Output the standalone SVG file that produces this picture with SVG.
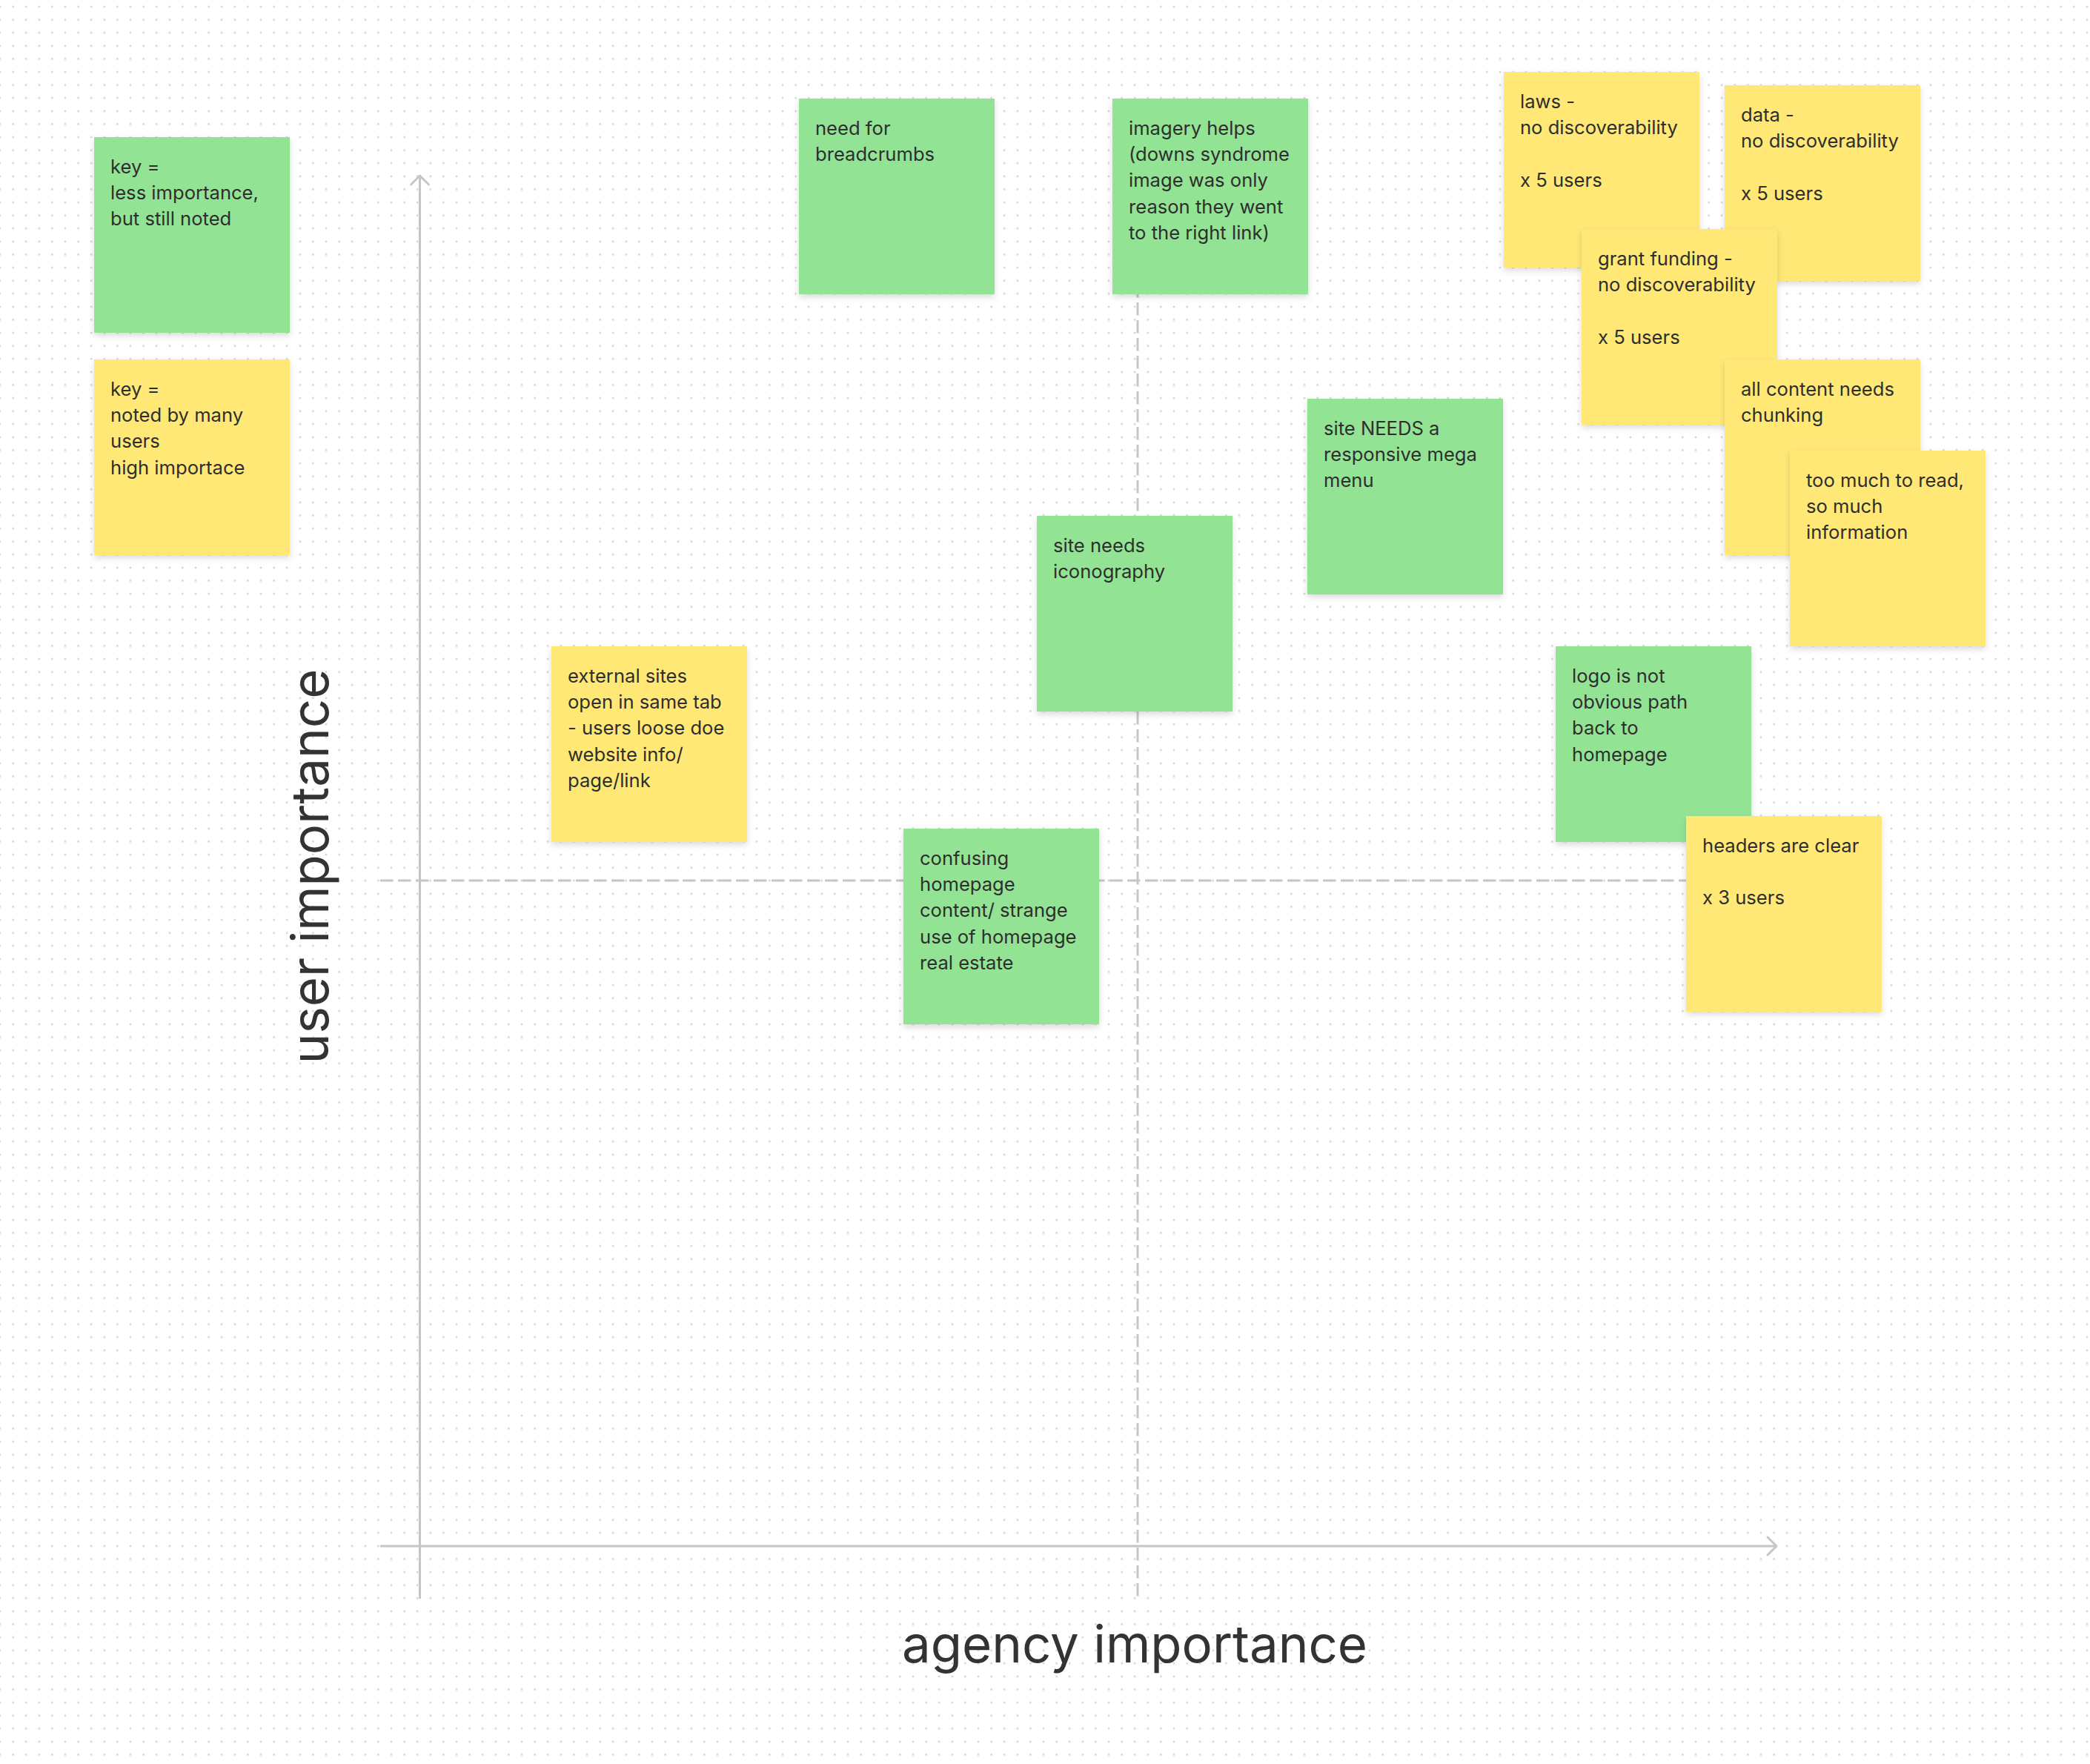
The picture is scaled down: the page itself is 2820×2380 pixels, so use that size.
<svg xmlns="http://www.w3.org/2000/svg" width="2820" height="2380" viewBox="0 0 2820 2380">
<style>
.bg{fill:#ffffff}
.dot{fill:#d2d2d2}
.g{fill:#93E395}
.y{fill:#FFE874}
.t{font-family:Inter,"Noto Sans","Liberation Sans",sans-serif;font-size:25.6px;fill:#2e2e2e}
.lbl{font-family:Inter,"Noto Sans","Liberation Sans",sans-serif;font-size:69px;fill:#333333}
.axis{stroke:#c6c6c6;stroke-width:3;fill:none}
.dash{stroke:#c6c6c6;stroke-width:3;fill:none;stroke-dasharray:17.5 6.5}
</style>
<defs>
<pattern id="dots" patternUnits="userSpaceOnUse" x="-8.8" y="0.3" width="17.6" height="17.6">
<circle class="dot" cx="8.8" cy="8.8" r="1.4"/>
</pattern>
<filter id="sh" x="-10%" y="-10%" width="120%" height="125%">
<feDropShadow dx="0" dy="4" stdDeviation="4" flood-color="#000000" flood-opacity="0.14"/>
</filter>
<marker id="arr" markerUnits="userSpaceOnUse" viewBox="-16 -16 32 32" markerWidth="32" markerHeight="32" refX="0" refY="0" orient="auto" overflow="visible">
<path d="M-12,-12 L0,0 L-12,12" stroke="#c6c6c6" stroke-width="3" fill="none" stroke-linecap="round" stroke-linejoin="round"/>
</marker>
</defs>
<rect class="bg" x="0" y="0" width="2820" height="2380"/>
<rect x="0" y="0" width="2820" height="2380" fill="url(#dots)"/>

<g id="connectors">
<line class="dash" x1="1535" y1="240" x2="1535" y2="2157"/>
<line class="dash" x1="513" y1="1188" x2="2397" y2="1188"/>
<line class="axis" x1="566.5" y1="2157" x2="566.5" y2="237" marker-end="url(#arr)"/>
<line class="axis" x1="513" y1="2086" x2="2397" y2="2086" marker-end="url(#arr)"/>
</g>

<g id="label-user-importance">
<text class="lbl" transform="translate(443,1169) rotate(-90)" text-anchor="middle">user importance</text>
</g>
<g id="label-agency-importance">
<text class="lbl" x="1531" y="2243" text-anchor="middle">agency importance</text>
</g>

<g id="key-green">
<rect class="g" x="127" y="185" width="264" height="264" filter="url(#sh)"/>
<text class="t"><tspan x="149" y="234">key =</tspan><tspan x="149" y="269.2">less importance,</tspan><tspan x="149" y="304.4">but still noted</tspan></text>
</g>
<g id="key-yellow">
<rect class="y" x="127" y="485" width="264" height="264" filter="url(#sh)"/>
<text class="t"><tspan x="149" y="534">key =</tspan><tspan x="149" y="569.2">noted by many</tspan><tspan x="149" y="604.4">users</tspan><tspan x="149" y="639.6">high importace</tspan></text>
</g>
<g id="breadcrumbs">
<rect class="g" x="1078" y="133" width="264" height="264" filter="url(#sh)"/>
<text class="t"><tspan x="1100" y="182">need for</tspan><tspan x="1100" y="217.2">breadcrumbs</tspan></text>
</g>
<g id="imagery">
<rect class="g" x="1501" y="133" width="264" height="264" filter="url(#sh)"/>
<text class="t"><tspan x="1523" y="182">imagery helps</tspan><tspan x="1523" y="217.2">(downs syndrome</tspan><tspan x="1523" y="252.4">image was only</tspan><tspan x="1523" y="287.6">reason they went</tspan><tspan x="1523" y="322.8">to the right link)</tspan></text>
</g>
<g id="laws">
<rect class="y" x="2029" y="97" width="264" height="264" filter="url(#sh)"/>
<text class="t"><tspan x="2051" y="146">laws -</tspan><tspan x="2051" y="181.2">no discoverability</tspan><tspan x="2051" y="251.6">x 5 users</tspan></text>
</g>
<g id="data">
<rect class="y" x="2327" y="115" width="264" height="264" filter="url(#sh)"/>
<text class="t"><tspan x="2349" y="164">data -</tspan><tspan x="2349" y="199.2">no discoverability</tspan><tspan x="2349" y="269.6">x 5 users</tspan></text>
</g>
<g id="grant-funding">
<rect class="y" x="2134" y="309" width="264" height="264" filter="url(#sh)"/>
<text class="t"><tspan x="2156" y="358">grant funding -</tspan><tspan x="2156" y="393.2">no discoverability</tspan><tspan x="2156" y="463.6">x 5 users</tspan></text>
</g>
<g id="chunking">
<rect class="y" x="2327" y="485" width="264" height="264" filter="url(#sh)"/>
<text class="t"><tspan x="2349" y="534">all content needs</tspan><tspan x="2349" y="569.2">chunking</tspan></text>
</g>
<g id="too-much">
<rect class="y" x="2415" y="608" width="264" height="264" filter="url(#sh)"/>
<text class="t"><tspan x="2437" y="657">too much to read,</tspan><tspan x="2437" y="692.2">so much</tspan><tspan x="2437" y="727.4">information</tspan></text>
</g>
<g id="mega-menu">
<rect class="g" x="1764" y="538" width="264" height="264" filter="url(#sh)"/>
<text class="t"><tspan x="1786" y="587">site NEEDS a</tspan><tspan x="1786" y="622.2">responsive mega</tspan><tspan x="1786" y="657.4">menu</tspan></text>
</g>
<g id="iconography">
<rect class="g" x="1399" y="696" width="264" height="264" filter="url(#sh)"/>
<text class="t"><tspan x="1421" y="745">site needs</tspan><tspan x="1421" y="780.2">iconography</tspan></text>
</g>
<g id="external-sites">
<rect class="y" x="744" y="872" width="264" height="264" filter="url(#sh)"/>
<text class="t"><tspan x="766" y="921">external sites</tspan><tspan x="766" y="956.2">open in same tab</tspan><tspan x="766" y="991.4">- users loose doe</tspan><tspan x="766" y="1026.6">website info/</tspan><tspan x="766" y="1061.8">page/link</tspan></text>
</g>
<g id="logo">
<rect class="g" x="2099" y="872" width="264" height="264" filter="url(#sh)"/>
<text class="t"><tspan x="2121" y="921">logo is not</tspan><tspan x="2121" y="956.2">obvious path</tspan><tspan x="2121" y="991.4">back to</tspan><tspan x="2121" y="1026.6">homepage</tspan></text>
</g>
<g id="headers">
<rect class="y" x="2275" y="1101" width="264" height="264" filter="url(#sh)"/>
<text class="t"><tspan x="2297" y="1150">headers are clear</tspan><tspan x="2297" y="1220.4">x 3 users</tspan></text>
</g>
<g id="confusing-homepage">
<rect class="g" x="1219" y="1118" width="264" height="264" filter="url(#sh)"/>
<text class="t"><tspan x="1241" y="1167">confusing</tspan><tspan x="1241" y="1202.2">homepage</tspan><tspan x="1241" y="1237.4">content/ strange</tspan><tspan x="1241" y="1272.6">use of homepage</tspan><tspan x="1241" y="1307.8">real estate</tspan></text>
</g>
</svg>
